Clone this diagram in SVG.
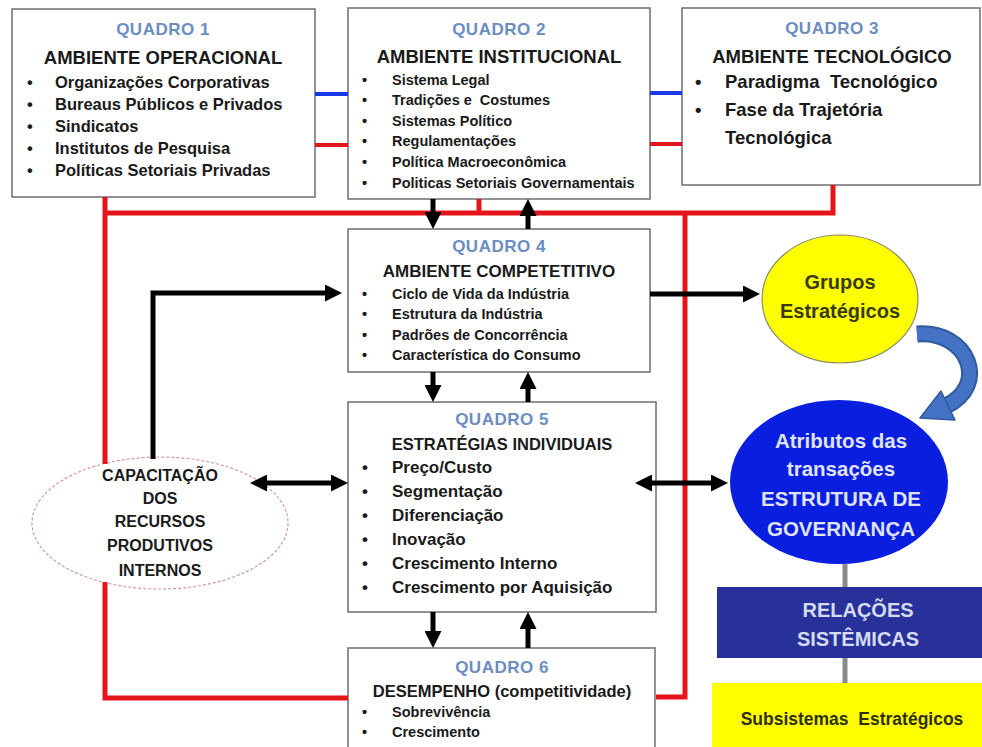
<svg xmlns="http://www.w3.org/2000/svg" width="982" height="747" viewBox="0 0 982 747">
<style>
text{font-family:"Liberation Sans",Arial,sans-serif;font-weight:bold;fill:#1a1a1a}
.box{fill:#fff;stroke:#6e6e6e;stroke-width:1.5}
.q{fill:#6c8dc2;font-size:17px;text-anchor:middle;letter-spacing:0.5px}
.h{font-size:18.5px;text-anchor:middle}
.b1{font-size:16.5px}
.bs{font-size:14.5px}
.b3{font-size:18.5px}
.b5{font-size:17px}
.c{text-anchor:middle}
.red{fill:none;stroke:#e3141c;stroke-width:5}
.blue{fill:none;stroke:#1a3ae8;stroke-width:4}
.arr{fill:none;stroke:#000;stroke-width:5}
.gray{fill:none;stroke:#8a8a8a;stroke-width:5}
</style>
<defs>
<marker id="ah" viewBox="0 0 10 10" refX="2" refY="5" markerWidth="3.4" markerHeight="3.4" orient="auto-start-reverse">
<path d="M0,0 L10,5 L0,10 z" fill="#000"/>
</marker>
</defs>
<rect width="982" height="747" fill="#fff"/>

<g id="quadro1">
<rect class="box" x="12" y="9" width="303" height="188"/>
<text class="q" x="163" y="35">QUADRO 1</text>
<text class="h" x="163" y="64">AMBIENTE OPERACIONAL</text>
<text class="b1" x="27" y="88">•</text><text class="b1" x="55" y="88">Organizações Corporativas</text>
<text class="b1" x="27" y="110">•</text><text class="b1" x="55" y="110">Bureaus Públicos e Privados</text>
<text class="b1" x="27" y="132">•</text><text class="b1" x="55" y="132">Sindicatos</text>
<text class="b1" x="27" y="154">•</text><text class="b1" x="55" y="154">Institutos de Pesquisa</text>
<text class="b1" x="27" y="176">•</text><text class="b1" x="55" y="176">Políticas Setoriais Privadas</text>
</g>

<g id="quadro2">
<rect class="box" x="348" y="8" width="302" height="191"/>
<text class="q" x="499" y="35">QUADRO 2</text>
<text class="h" x="499" y="63">AMBIENTE INSTITUCIONAL</text>
<text class="bs" x="362" y="85">•</text><text class="bs" x="392" y="85">Sistema Legal</text>
<text class="bs" x="362" y="105">•</text><text class="bs" x="392" y="105" xml:space="preserve">Tradições e  Costumes</text>
<text class="bs" x="362" y="126">•</text><text class="bs" x="392" y="126">Sistemas Político</text>
<text class="bs" x="362" y="146">•</text><text class="bs" x="392" y="146">Regulamentações</text>
<text class="bs" x="362" y="167">•</text><text class="bs" x="392" y="167">Política Macroeconômica</text>
<text class="bs" x="362" y="188">•</text><text class="bs" x="392" y="188">Politicas Setoriais Governamentais</text>
</g>

<g id="quadro3">
<rect class="box" x="682" y="8" width="298" height="177"/>
<text class="q" x="832" y="34">QUADRO 3</text>
<text class="h" x="832" y="63">AMBIENTE TECNOLÓGICO</text>
<text class="b3" x="695" y="88">•</text><text class="b3" x="725" y="88" xml:space="preserve">Paradigma  Tecnológico</text>
<text class="b3" x="695" y="116">•</text><text class="b3" x="725" y="116">Fase da Trajetória</text>
<text class="b3" x="725" y="144">Tecnológica</text>
</g>

<g id="quadro4">
<rect class="box" x="348" y="229" width="302" height="143"/>
<text class="q" x="499" y="252">QUADRO 4</text>
<text class="h" style="font-size:17px" x="499" y="277">AMBIENTE COMPETETITIVO</text>
<text class="bs" x="362" y="299">•</text><text class="bs" x="392" y="299">Ciclo de Vida da Indústria</text>
<text class="bs" x="362" y="319">•</text><text class="bs" x="392" y="319">Estrutura da Indústria</text>
<text class="bs" x="362" y="340">•</text><text class="bs" x="392" y="340">Padrões de Concorrência</text>
<text class="bs" x="362" y="360">•</text><text class="bs" x="392" y="360">Característica do Consumo</text>
</g>

<g id="quadro5">
<rect class="box" x="348" y="402" width="308" height="210"/>
<text class="q" x="502" y="425">QUADRO 5</text>
<text class="h" style="font-size:16.5px" x="502" y="450">ESTRATÉGIAS INDIVIDUAIS</text>
<text class="b5" x="362" y="473">•</text><text class="b5" x="392" y="473">Preço/Custo</text>
<text class="b5" x="362" y="497">•</text><text class="b5" x="392" y="497">Segmentação</text>
<text class="b5" x="362" y="521">•</text><text class="b5" x="392" y="521">Diferenciação</text>
<text class="b5" x="362" y="545">•</text><text class="b5" x="392" y="545">Inovação</text>
<text class="b5" x="362" y="569">•</text><text class="b5" x="392" y="569">Crescimento Interno</text>
<text class="b5" x="362" y="593">•</text><text class="b5" x="392" y="593">Crescimento por Aquisição</text>
</g>

<g id="quadro6">
<rect class="box" x="348" y="648" width="307" height="110"/>
<text class="q" x="502" y="673">QUADRO 6</text>
<text class="h" style="font-size:16.5px" x="502" y="697">DESEMPENHO (competitividade)</text>
<text class="bs" x="362" y="717">•</text><text class="bs" x="392" y="717">Sobrevivência</text>
<text class="bs" x="362" y="737">•</text><text class="bs" x="392" y="737">Crescimento</text>
</g>

<g id="capacitacao">
<ellipse cx="160" cy="523" rx="128" ry="66" fill="#fff" stroke="#d49a9a" stroke-width="1.2" stroke-dasharray="3,2"/>
<text class="c" style="font-size:16px" x="160" y="481">CAPACITAÇÃO</text>
<text class="c" style="font-size:16px" x="160" y="504">DOS</text>
<text class="c" style="font-size:16px" x="160" y="527">RECURSOS</text>
<text class="c" style="font-size:16px" x="160" y="551">PRODUTIVOS</text>
<text class="c" style="font-size:16px" x="160" y="576">INTERNOS</text>
</g>

<g id="grupos">
<ellipse cx="840" cy="299" rx="78" ry="64" fill="#ffff00" stroke="#8a8a6a" stroke-width="1.2"/>
<text class="c" style="font-size:20px;fill:#3a3a10" x="840" y="289">Grupos</text>
<text class="c" style="font-size:20px;fill:#3a3a10" x="840" y="318">Estratégicos</text>
</g>

<g id="atributos">
<ellipse cx="839" cy="482" rx="109" ry="82" fill="#0a1ee0"/>
<text class="c" style="font-size:20.5px;fill:#dfe3f5" x="841" y="448">Atributos das</text>
<text class="c" style="font-size:20.5px;fill:#dfe3f5" x="841" y="476">transações</text>
<text class="c" style="font-size:20.5px;fill:#dfe3f5" x="841" y="506">ESTRUTURA DE</text>
<text class="c" style="font-size:20.5px;fill:#dfe3f5" x="841" y="536">GOVERNANÇA</text>
</g>

<g id="relacoes">
<rect x="717" y="587" width="265" height="71" fill="#28309a"/>
<text class="c" style="font-size:20px;fill:#d4dcf2" x="858" y="617">RELAÇÕES</text>
<text class="c" style="font-size:20px;fill:#d4dcf2" x="858" y="646">SISTÊMICAS</text>
</g>

<g id="subsistemas">
<rect x="712" y="683" width="270" height="64" fill="#ffff00"/>
<text class="c" style="font-size:17.5px;fill:#30300a" x="852" y="725" xml:space="preserve">Subsistemas  Estratégicos</text>
</g>

<g id="connectors">
<path class="red" d="M105,197 V464"/>
<path class="red" d="M105,582 V698 H348"/>
<path class="red" d="M105,213 H833 V185"/>
<path class="red" d="M479,199 V213"/>
<path class="red" d="M685,213 V697 H656"/>
<path class="blue" d="M315,94 H348"/>
<path class="blue" d="M650,93 H682"/>
<path class="red" style="stroke-width:4" d="M315,145 H348"/>
<path class="red" style="stroke-width:4" d="M650,144 H682"/>
<path class="arr" marker-end="url(#ah)" d="M433,199 V215.4"/>
<path class="arr" marker-end="url(#ah)" d="M528,229 V212.6"/>
<path class="arr" marker-end="url(#ah)" d="M433,372 V388.4"/>
<path class="arr" marker-end="url(#ah)" d="M528,402 V385.6"/>
<path class="arr" marker-end="url(#ah)" d="M433,612 V634.4"/>
<path class="arr" marker-end="url(#ah)" d="M528,648 V625.6"/>
<path class="arr" marker-end="url(#ah)" d="M153,459 V293 H328.4"/>
<path class="arr" marker-end="url(#ah)" d="M650,294 H746.4"/>
<path class="arr" marker-start="url(#ah)" marker-end="url(#ah)" d="M263.6,483 H334.4"/>
<path class="arr" marker-start="url(#ah)" marker-end="url(#ah)" d="M648.6,483 H714.4"/>
<path class="gray" d="M845,564 V587"/>
<path class="gray" d="M845,658 V683"/>
<path d="M917,334 C968,330 990,385 946,406" fill="none" stroke="#2f5a9e" stroke-width="17"/>
<path d="M917,334 C968,330 990,385 946,406" fill="none" stroke="#4472c4" stroke-width="13"/>
<polygon points="920,418 941,391 955,420" fill="#4472c4" stroke="#2f5a9e" stroke-width="1.5" stroke-linejoin="round"/>
</g>
</svg>
